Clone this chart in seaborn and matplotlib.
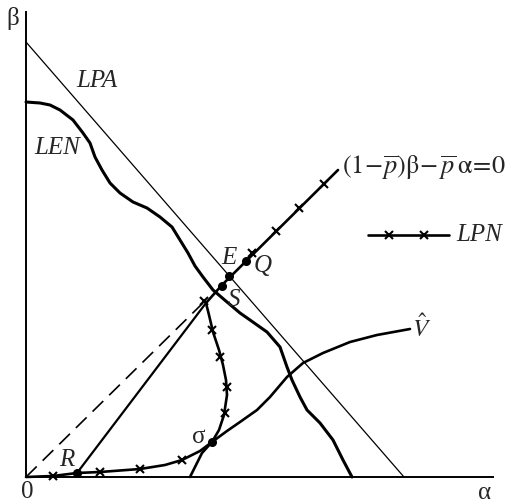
import matplotlib
matplotlib.use("Agg")
import matplotlib.pyplot as plt
import seaborn as sns

# ---------- values (alpha, beta) ----------
lpa_a = [0, 378]
lpa_b = [435, 0]

len_a = [0, 14, 24, 34, 47, 57, 64, 69, 76, 84, 94, 107, 121, 134, 146, 154, 162, 169,
         177, 187, 201, 214, 224, 241, 254, 261, 266, 274, 281, 294, 307, 317, 326]
len_b = [375, 374, 372, 367, 357, 344, 334, 320, 307, 294, 284, 275, 269, 260, 250, 237, 224, 211,
         200, 187, 175, 164, 157, 145, 130, 110, 97, 80, 67, 54, 37, 17, 0]

vhat_a = [164, 170, 176, 186, 201, 214, 231, 244, 261, 277, 297, 324, 351, 384]
vhat_b = [0, 12, 24, 35, 46, 55, 67, 80, 100, 114, 124, 135, 142, 148]

lpn_a = [0, 27, 51, 74, 114, 139, 156, 174, 186, 193, 198, 201, 200, 197, 193, 187,
         183, 180, 196, 312]
lpn_b = [0, 1, 4, 5, 8, 12, 17, 26, 35, 47, 62, 82, 97, 112, 127, 145,
         162, 174, 192, 307]

lpn_mark_a = [27, 74, 114, 156, 199, 201, 194, 186, 178, 226, 250, 273, 298]
lpn_mark_b = [1, 5, 8, 17, 64, 90, 120, 147, 176, 224, 246, 269, 293]

ray_a = [0, 180]          # dashed part of (1-p)beta - p alpha = 0
ray_b = [0, 177]

rs_a = [51, 180]
rs_b = [4, 174]

pt_names = ["R", "σ", "S", "E", "Q"]
pt_a = [51, 186, 196, 203, 220]
pt_b = [4, 35, 191, 201, 216]
lbl_a = [41, 173, 208, 203, 237]
lbl_b = [17, 40, 177, 219, 211]

sns.set_theme(style="white")
plt.rcParams['font.family'] = ['Liberation Serif', 'DejaVu Serif']
plt.rcParams['mathtext.fontset'] = 'stix'

fig = plt.figure(figsize=(5.12, 5.03), dpi=100)
ax = fig.add_axes([0, 0, 1, 1])
ax.set_xlim(-26, 486)
ax.set_ylim(-26, 477)

# axes through the origin
for s in ['top', 'right']:
    ax.spines[s].set_visible(False)
ax.spines['left'].set_position(('data', 0))
ax.spines['bottom'].set_position(('data', 0))
ax.spines['left'].set_bounds(0, 465)
ax.spines['bottom'].set_bounds(0, 467)
for s in ['left', 'bottom']:
    ax.spines[s].set_color('black')
    ax.spines[s].set_linewidth(1.4)
ax.set_xticks([])
ax.set_yticks([])

k = 'black'
sns.lineplot(x=lpa_a, y=lpa_b, sort=False, estimator=None, color=k, lw=0.9, ax=ax)
sns.lineplot(x=len_a, y=len_b, sort=False, estimator=None, color=k, lw=2.2, ax=ax)
sns.lineplot(x=vhat_a, y=vhat_b, sort=False, estimator=None, color=k, lw=1.9, ax=ax)
sns.lineplot(x=lpn_a, y=lpn_b, sort=False, estimator=None, color=k, lw=1.9, ax=ax)
ax.plot(ray_a, ray_b, color=k, lw=1.2, dashes=(9, 5))
ax.plot(rs_a, rs_b, color=k, lw=1.6)
ax.plot(lpn_mark_a, lpn_mark_b, ls='none', marker='x', ms=6, mew=1.5, color=k)
ax.plot(pt_a, pt_b, ls='none', marker='o', ms=5.5, color=k)

fs = 18
for name, x, y in zip(pt_names, lbl_a, lbl_b):
    ax.text(x, y, name, ha='center', va='center', fontsize=fs,
            style='normal' if name == "σ" else 'italic')

ax.text(71, 396, 'LPA', ha='center', va='center', fontsize=fs, style='italic')
ax.text(31, 329, 'LEN', ha='center', va='center', fontsize=fs, style='italic')
ax.text(386, 149, r'$\hat{V}$', ha='left', va='center', fontsize=fs)
ax.text(316, 309, r'$(1\!-\!\overline{p})\mathrm{\beta}\!-\overline{p}\,\mathrm{\alpha}\!=\!0$',
        ha='left', va='center', fontsize=19)

# legend sample for LPN
ax.plot([342, 423], [242, 242], color=k, lw=1.9)
ax.plot([363, 398], [242, 242], ls='none', marker='x', ms=6, mew=1.5, color=k)
ax.text(430, 242, 'LPN', ha='left', va='center', fontsize=fs, style='italic')

ax.text(-13, 459, 'β', ha='center', va='center', fontsize=fs)
ax.text(459, -16, 'α', ha='center', va='center', fontsize=fs)
ax.text(1, -15, '0', ha='center', va='center', fontsize=fs)

fig.savefig('out.png', dpi=100)
